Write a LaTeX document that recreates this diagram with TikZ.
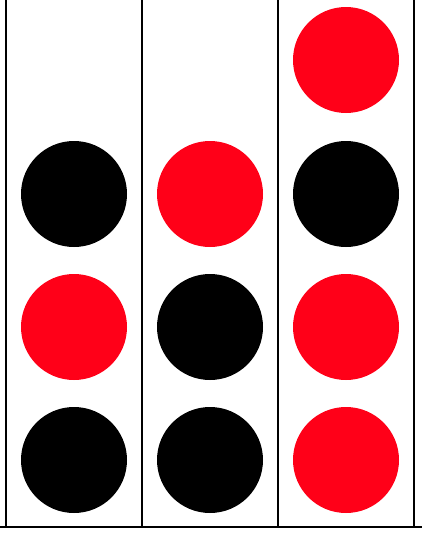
\documentclass[tikz,border=0pt]{standalone}
\usepackage{xcolor}
\usepackage{tikz}
\definecolor{discred}{HTML}{FF0018}
\definecolor{discblack}{HTML}{000000}

\begin{document}
\begin{tikzpicture}[x=1pt, y=-1pt]
    \useasboundingbox (0,0) rectangle (422,533);
    % columns
    \foreach \x in {5.5, 142, 278, 414}
        \draw[line width=2pt] (\x,0) -- (\x,527);
    \draw[line width=1.5pt] (0,527) -- (422,527);
    % discs, bottom up
    \foreach \x/\y/\c in {74/460/discblack, 74/327/discred, 74/194/discblack,
                          210/460/discblack, 210/327/discblack, 210/194/discred,
                          346/460/discred, 346/327/discred, 346/194/discblack, 346/60/discred}
        \fill[\c] (\x,\y) circle (53);
\end{tikzpicture}
\end{document}
